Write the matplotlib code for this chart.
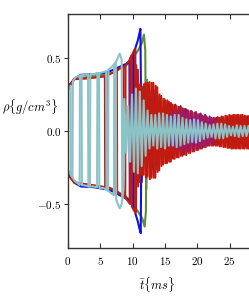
import numpy as np
import matplotlib.pyplot as plt
from matplotlib.ticker import FuncFormatter

plt.rcParams['mathtext.fontset'] = 'cm'
plt.rcParams['font.family'] = ['DejaVu Serif']

# ---- data (turning points, rho in g/cm^3, t in ms) ----
# early phase: pairs of probes swapping between the two envelopes
cyan_a_t = [0.0, 0.4, 0.45, 1.0, 1.8, 1.85, 2.5, 3.1, 3.15, 3.8, 4.5, 4.55, 5.2, 5.9,
            5.95, 6.5, 7.1, 7.15, 7.6, 8.0, 8.3, 8.4]
cyan_a_v = [0.28, 0.31, -0.30, -0.34, -0.37, 0.38, 0.385, 0.39, -0.38, -0.38, -0.385, 0.395,
            0.40, 0.41, -0.40, -0.42, -0.44, 0.45, 0.49, 0.53, 0.49, -0.45]
cyan_b_t = [0.0, 0.7, 0.75, 1.2, 2.1, 2.15, 2.8, 3.4, 3.45, 4.1, 4.8, 4.85, 5.5, 6.2,
            6.25, 6.8, 7.4, 7.45, 7.8, 8.0, 8.3, 8.6, 8.8]
cyan_b_v = [-0.27, -0.32, 0.34, 0.37, 0.38, -0.37, -0.375, -0.38, 0.39, 0.39, 0.395, -0.39,
            -0.39, -0.41, 0.42, 0.44, 0.47, -0.47, -0.51, -0.53, -0.50, -0.40, 0.10]
# late phase: fast oscillation, one turning point every 0.3 ms from 8.7 ms
cyan_late_t0 = 8.7
cyan_late = [0.22, -0.15, 0.17, -0.21, 0.25, -0.28, 0.29, -0.29, 0.27, -0.24, 0.21, -0.17,
             0.14, -0.12, 0.11, -0.10, 0.11, -0.12, 0.12, -0.11, 0.12, -0.12, 0.11, -0.10,
             0.10, -0.10, 0.11, -0.11, 0.11, -0.10, 0.09, -0.09, 0.08, -0.08, 0.075, -0.075,
             0.08, -0.08, 0.075, -0.07, 0.06, -0.055, 0.05, -0.045, 0.04, -0.04, 0.045, -0.05,
             0.05, -0.05, 0.05, -0.05, 0.045, -0.04, 0.035, -0.03, 0.03, -0.035, 0.04, -0.04,
             0.035, -0.035, 0.035, -0.035, 0.035, -0.035]

red_a_t = [0.0, 1.0, 3.0, 5.0, 5.7, 5.75, 6.5, 7.3, 7.35, 8.0, 8.6, 8.65, 9.1, 9.6, 9.65,
           9.9, 10.2, 10.35]
red_a_v = [0.30, 0.355, 0.36, 0.37, 0.375, -0.385, -0.39, -0.41, 0.41, 0.43, 0.44, -0.45,
           -0.47, -0.50, 0.50, 0.52, 0.55, 0.56]
red_b_t = [0.0, 1.0, 3.0, 5.0, 5.95, 6.0, 6.75, 7.55, 7.6, 8.3, 8.85, 8.9, 9.35, 9.85, 9.9,
           10.4, 10.55]
red_b_v = [-0.30, -0.355, -0.365, -0.38, -0.385, 0.38, 0.395, 0.415, -0.415, -0.44, -0.46,
           0.45, 0.47, 0.52, -0.52, -0.56, 0.45]
red_late_t0 = 10.5
red_late = [-0.55, 0.42, -0.35, 0.30, -0.30, 0.33, -0.31, 0.335, -0.32, 0.33, -0.32, 0.30,
            -0.27, 0.24, -0.23, 0.21, -0.22, 0.20, -0.21, 0.18, -0.19, 0.17, -0.18, 0.16,
            -0.17, 0.15, -0.165, 0.14, -0.15, 0.13, -0.14, 0.12, -0.13, 0.115, -0.12, 0.10,
            -0.11, 0.09, -0.10, 0.085, -0.10, 0.085, -0.10, 0.09, -0.105, 0.095, -0.11, 0.10,
            -0.115, 0.105, -0.12, 0.11, -0.12, 0.11, -0.12, 0.11, -0.12, 0.10, -0.12, 0.10]
red_b_late_t0 = 10.85
red_b_late = [-0.38, 0.32, -0.30, 0.32, -0.32, 0.33, -0.33, 0.33, -0.32, 0.31, -0.28, 0.25,
              -0.24, 0.22, -0.22, 0.21, -0.21, 0.19, -0.19, 0.175, -0.18, 0.165, -0.17, 0.155,
              -0.16, 0.145, -0.15, 0.135, -0.14, 0.125, -0.13, 0.115, -0.12, 0.105, -0.11,
              0.095, -0.10, 0.09, -0.10, 0.09, -0.10, 0.095, -0.105, 0.10, -0.11, 0.105,
              -0.115, 0.11, -0.12, 0.11, -0.12, 0.11, -0.12, 0.11, -0.12, 0.105, -0.12, 0.10]

blue_a_t = [0.0, 1.0, 2.0, 4.0, 6.0, 7.0, 8.0, 9.0, 9.5, 9.55, 10.1, 10.15, 10.5, 10.8,
            11.0, 11.2]
blue_a_v = [0.30, 0.36, 0.385, 0.39, 0.40, 0.42, 0.44, 0.46, 0.48, -0.48, -0.52, 0.52, 0.58,
            0.62, 0.66, 0.70]
blue_b_t = [0.0, 1.0, 2.0, 4.0, 6.0, 7.0, 8.0, 9.0, 9.8, 9.85, 10.4, 10.45, 10.8, 11.0,
            11.25, 11.4]
blue_b_v = [-0.29, -0.355, -0.38, -0.385, -0.40, -0.415, -0.44, -0.46, -0.49, 0.50, 0.56,
            -0.57, -0.62, -0.66, -0.70, 0.30]
blue_late_t0 = 11.4
blue_late = [-0.35, 0.28, -0.27, 0.27, -0.26, 0.25, -0.24, 0.22, -0.21, 0.20, -0.19, 0.19,
             -0.18, 0.18, -0.18, 0.17, -0.16, 0.15, -0.14, 0.135, -0.13, 0.125, -0.12, 0.11,
             -0.10, 0.10, -0.09, 0.09, -0.09, 0.09, -0.09, 0.095, -0.095, 0.10, -0.10, 0.10,
             -0.10, 0.10, -0.10, 0.10, -0.10, 0.10, -0.10]

green_a_t = [0.0, 1.0, 3.0, 5.0, 7.0, 9.0, 10.0, 10.8, 11.4, 11.75, 11.95]
green_a_v = [0.29, 0.355, 0.37, 0.38, 0.40, 0.45, 0.50, 0.55, 0.60, 0.66, 0.55]
green_b_t = [0.0, 1.0, 3.0, 5.0, 7.0, 9.0, 10.0, 10.8, 11.5, 11.85, 12.05, 12.2]
green_b_v = [-0.29, -0.35, -0.37, -0.38, -0.40, -0.45, -0.50, -0.55, -0.60, -0.655, -0.55, 0.35]
green_late_t0 = 12.1
green_late = [-0.40, 0.32, -0.30, 0.28, -0.26, 0.24, -0.22, 0.22, -0.19, 0.18, -0.16, 0.15,
              -0.14, 0.13, -0.12, 0.12, -0.11, 0.11, -0.10, 0.10, -0.10, 0.10, -0.09, 0.09,
              -0.09, 0.09, -0.09, 0.09, -0.09, 0.09, -0.09, 0.09, -0.09, 0.09, -0.09, 0.09,
              -0.09, 0.09, -0.09, 0.09, -0.09]

purple_t0 = 15.6
purple = [0.10, -0.10, 0.13, -0.12, 0.14, -0.13, 0.145, -0.13, 0.14, -0.13, 0.135, -0.12,
          0.13, -0.115, 0.12, -0.11, 0.11, -0.10, 0.10, -0.09, 0.08]

C_CYAN = '#8cc3c7'
C_RED = '#c11a10'
C_BLUE = '#1010e0'
C_GREEN = '#5e8c3e'
C_PURPLE = '#8c1a8c'
LW = 1.5


def late_times(t0, vals, step):
    return t0 + step * np.arange(len(vals))


fig = plt.figure(figsize=(2.49, 3.0), dpi=100)
ax = fig.add_axes([68 / 249, 52.2 / 300, 194 / 249, 233.6 / 300])

ax.plot(green_b_t, green_b_v, color=C_GREEN, lw=LW)
ax.plot(green_a_t + list(late_times(green_late_t0, green_late, 0.4)),
        green_a_v + green_late, color=C_GREEN, lw=LW)
ax.plot(blue_b_t, blue_b_v, color=C_BLUE, lw=LW)
ax.plot(blue_a_t + list(late_times(blue_late_t0, blue_late, 0.4)),
        blue_a_v + blue_late, color=C_BLUE, lw=LW)
ax.plot(red_b_t + list(late_times(red_b_late_t0, red_b_late, 0.3)),
        red_b_v + red_b_late, color=C_RED, lw=LW)
ax.plot(red_a_t + list(late_times(red_late_t0, red_late, 0.3)),
        red_a_v + red_late, color=C_RED, lw=LW)
ax.plot(late_times(purple_t0, purple, 0.35), purple, color=C_PURPLE, lw=LW)
ax.plot(cyan_b_t, cyan_b_v, color=C_CYAN, lw=LW)
ax.plot(cyan_a_t + list(late_times(cyan_late_t0, cyan_late, 0.3)),
        cyan_a_v + cyan_late, color=C_CYAN, lw=LW)

ax.set_xlim(0, 30)
ax.set_ylim(-0.8, 0.8)
ax.set_xticks([0, 5, 10, 15, 20, 25])
ax.set_yticks([-0.5, 0.0, 0.5])
ax.xaxis.set_major_formatter(FuncFormatter(lambda v, p: r'$%d$' % v))
ax.yaxis.set_major_formatter(FuncFormatter(lambda v, p: r'$%.1f$' % v))

for s in ax.spines.values():
    s.set_color('#333333')
    s.set_linewidth(1.0)
ax.tick_params(axis='x', direction='in', top=True, length=3.5, width=0.8,
               labelsize=8, pad=5, color='#333333')
ax.tick_params(axis='y', direction='out', length=3, width=0.8,
               labelsize=8, pad=1.5, color='#333333')

ax.set_ylabel(r'$\rho\{g/cm^3\}$', rotation=0, fontsize=9, ha='center', va='center')
ax.yaxis.set_label_coords(-0.196, 0.6)
ax.set_xlabel(r'$\bar{t}\{ms\}$', fontsize=9, ha='center', va='center')
ax.xaxis.set_label_coords(0.459, -0.158)

fig.savefig('out.png', dpi=100)
